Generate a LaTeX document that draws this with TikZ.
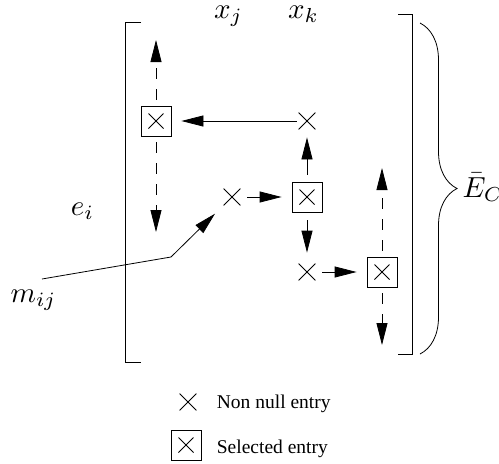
\documentclass[tikz,border=0pt]{standalone}
\usepackage{fontspec}
\setmainfont{Liberation Serif}
\usetikzlibrary{arrows.meta,shapes.misc,decorations.pathreplacing}
\tikzset{
  lw/.style={line width=0.8pt},
  xmark/.style={cross out, draw, lw, minimum size=16pt, inner sep=0pt},
  boxmark/.style={draw, lw, minimum size=30pt, inner sep=0pt,
    path picture={\draw[lw]
      ([shift={(-7.5pt,-7.5pt)}]path picture bounding box.center) -- ([shift={(7.5pt,7.5pt)}]path picture bounding box.center)
      ([shift={(-7.5pt,7.5pt)}]path picture bounding box.center) -- ([shift={(7.5pt,-7.5pt)}]path picture bounding box.center);}},
  arr/.style={lw, -{Triangle[length=22pt,width=11pt]}},
  darr/.style={arr, dash pattern=on 11pt off 10pt},
  mlabel/.style={font=\fontsize{10}{12}\selectfont, inner sep=0pt, scale=2.9},
  legend/.style={font=\fontsize{19.5}{23}\selectfont, inner sep=0pt, anchor=base west}
}
\begin{document}
\begin{tikzpicture}[x=1pt,y=-1pt]
\useasboundingbox (0,0) rectangle (499,464);
% matrix brackets
\draw[line width=0.9pt] (141,22.7) -- (125,22.7) -- (125,362) -- (141,362);
\draw[line width=0.9pt] (398,14.7) -- (412.7,14.7) -- (412.7,354) -- (398,354);
\draw[lw, decorate, decoration={brace, amplitude=37pt}] (420,23) -- (420,354);
% labels
\node[mlabel, anchor=base] (xj) at (228.5,18) {$x_j$};
\node[mlabel, anchor=base] (xk) at (303.5,18) {$x_k$};
\node[mlabel, anchor=base] (ei) at (82.5,215) {$e_i$};
\node[mlabel, anchor=base] (mij) at (33.5,302) {$m_{ij}$};
\node[mlabel, anchor=base west] (EC) at (462,197) {$\bar{E}_C$};
% entries
\node[boxmark] (A) at (156,121) {};
\node[xmark] (B) at (307,121) {};
\node[xmark] (C) at (232,197) {};
\node[boxmark] (D) at (307,197) {};
\node[xmark] (E) at (307,272) {};
\node[boxmark] (F) at (382,272) {};
\coordinate (Atop) at (156,40);
\coordinate (Abot) at (156,232);
\coordinate (Ftop) at (382,168);
\coordinate (Fbot) at (382,345);
\coordinate (mstart) at (42,279);
\coordinate (mbend) at (171,257);
% arrows
\draw[arr, shorten <=2pt, shorten >=10pt] (B) -- (A);
\draw[arr, shorten <=7pt, shorten >=10pt] (C) -- (D);
\draw[arr, shorten <=7pt, shorten >=10pt] (E) -- (F);
\draw[arr, shorten <=7pt, shorten >=8pt] (D) -- (B);
\draw[arr, shorten <=8pt, shorten >=11pt] (D) -- (E);
\draw[darr, shorten <=6pt] (A) -- (Atop);
\draw[darr, shorten <=6pt] (A) -- (Abot);
\draw[darr, shorten <=6pt] (F) -- (Ftop);
\draw[darr, shorten <=6pt] (F) -- (Fbot);
\draw[arr, shorten >=12pt] (mstart) -- (mbend) -- (C);
% legend
\node[xmark] (L1) at (188,402) {};
\node[legend] (L1t) at (216.7,408) {Non null entry};
\node[boxmark] (L2) at (186,445) {};
\node[legend] (L2t) at (216.7,453) {Selected entry};
\end{tikzpicture}
\end{document}
